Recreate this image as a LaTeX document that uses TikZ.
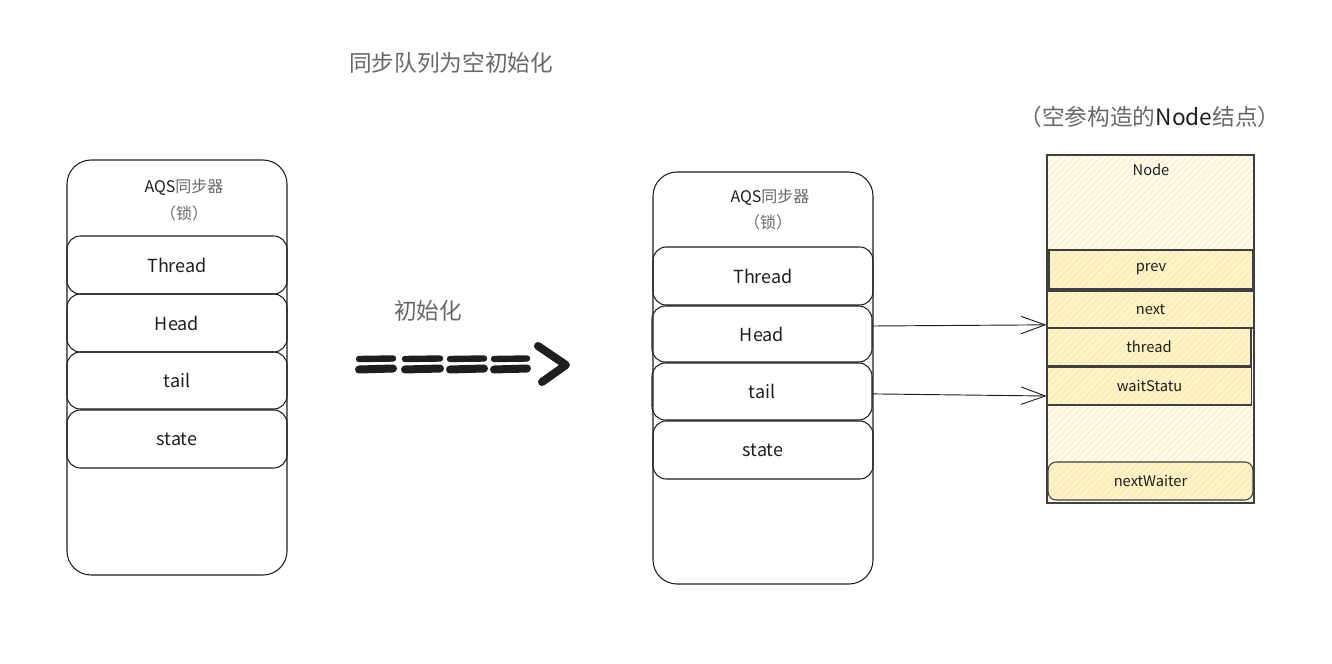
\documentclass[tikz,border=0pt]{standalone}
\usepackage{fontspec}
\newfontfamily\cjk{Noto Sans CJK SC}
\usetikzlibrary{arrows.meta,patterns.meta}
\definecolor{ink}{HTML}{1E1E1E}
\definecolor{cjkgray}{HTML}{686868}
\definecolor{nodebg}{HTML}{FFFCEE}
\definecolor{nodehatch}{HTML}{F6E9B2}
\definecolor{fieldbg}{HTML}{FFF4C8}
\definecolor{fieldhatch}{HTML}{F4E4A6}
\begin{document}
\begin{tikzpicture}[x=0.75pt,y=-0.75pt,
  every node/.style={font=\cjk, text=ink, inner sep=0pt},
  outerbox/.style={draw=ink, line width=0.8pt, rounded corners=18pt, minimum width=165pt},
  fieldbox/.style={draw=ink, line width=0.8pt, rounded corners=10pt, minimum width=165pt, minimum height=43.5pt, font=\cjk\fontsize{13.5}{15}\selectfont},
  nodebox/.style={draw=ink!85, line width=0.8pt, preaction={fill=nodebg},
     pattern={Lines[angle=45,distance=3.5pt,line width=0.5pt]}, pattern color=nodehatch},
  nfield/.style={draw=ink!85, line width=0.8pt, preaction={fill=fieldbg},
     pattern={Lines[angle=45,distance=3.5pt,line width=0.5pt]}, pattern color=fieldhatch,
     minimum width=153.5pt, minimum height=28.5pt, font=\cjk\fontsize{11}{13}\selectfont},
  ptr/.style={draw=ink, line width=0.7pt, -{Straight Barb[length=18pt,width=13pt,line width=0.7pt]}},
  bigdash/.style={draw=ink, line cap=round},
  title/.style={font=\cjk\fontsize{17}{20}\selectfont, text=cjkgray},
  smalltitle/.style={font=\cjk\fontsize{12}{14}\selectfont, text=cjkgray}
]
\useasboundingbox (0,0) rectangle (1332,664);

% titles
\node[title] (t1) at (451,63) {同步队列为空初始化};
\node[title] (t2) at (428,311) {初始化};
\node[title] (t3) at (1150,117) {（空参构造的{\color{ink}Node}结点）};

% left AQS
\node[outerbox, minimum height=311.25pt] (lAQS) at (177,367.5) {};
\node[smalltitle] (lT) at (184,187) {{\color{ink}AQS}同步器};
\node[smalltitle] (lL) at (184,213) {（锁）};
\node[fieldbox] (lThread) at (177,265) {Thread};
\node[fieldbox] (lHead) at (177,323) {Head};
\node[fieldbox, minimum height=42.75pt] (lTail) at (177,380.5) {tail};
\node[fieldbox] (lState) at (177,439) {state};

% big arrow
\foreach \a/\b in {359/393, 405/440, 450/484, 494/527}{
  \draw[bigdash, line width=4.8pt] (\a,359) -- (\b,358.5);
  \draw[bigdash, line width=6pt] (\a,369.5) -- (\b,368.5);
}
\draw[bigdash, line width=6pt, line join=round] (538,346) -- (566,365) -- (542,382);

% right AQS
\node[outerbox, minimum height=309pt] (rAQS) at (763,378) {};
\node[smalltitle] (rT) at (770,197) {{\color{ink}AQS}同步器};
\node[smalltitle] (rL) at (768,222) {（锁）};
\node[fieldbox] (rThread) at (763,276) {Thread};
\node[fieldbox, minimum height=42pt] (rHead) at (762,334) {Head};
\node[fieldbox, minimum height=42.75pt] (rTail) at (762,391.5) {tail};
\node[fieldbox] (rState) at (763,450) {state};

% Node
\node[nodebox, minimum width=155.25pt, minimum height=261pt] (nd) at (1150.5,329) {};
\node[font=\cjk\fontsize{11}{13}\selectfont] (ndT) at (1151,170) {Node};
\node[nfield, minimum width=153pt, minimum height=29.25pt] (prev) at (1151,269.5) {prev};
\node[nfield, minimum width=155.25pt, minimum height=27.75pt] (next) at (1150.5,309.5) {next};
\node[nfield, minimum width=153pt] (thr) at (1149,347) {thread};
\node[nfield] (ws) at (1149.5,386) {waitStatu};
\node[nfield, rounded corners=6pt] (nw) at (1150.5,481) {nextWaiter};

% pointers
\draw[ptr] ([yshift=6pt]rHead.east) -- ([yshift=-11.5pt]next.west);
\draw[ptr] ([yshift=-1.8pt]rTail.east) -- ([yshift=-7.5pt]ws.west);
\end{tikzpicture}
\end{document}
